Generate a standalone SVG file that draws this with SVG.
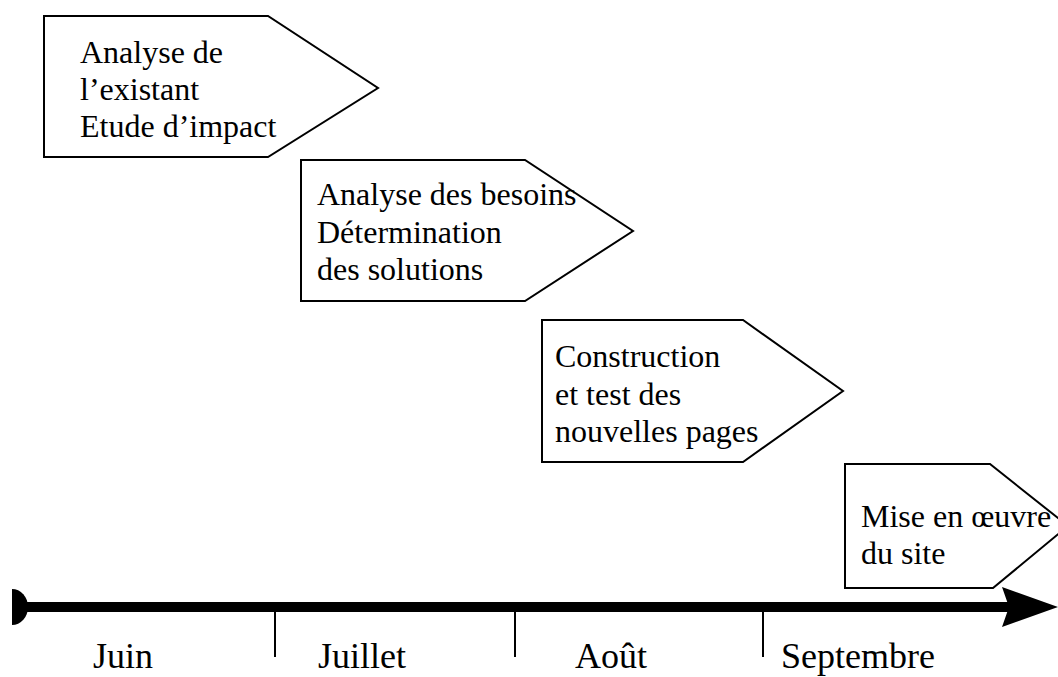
<svg xmlns="http://www.w3.org/2000/svg" width="1058" height="677" viewBox="0 0 1058 677">
<style>
.box{fill:#fff;stroke:#000;stroke-width:2;stroke-linejoin:miter}
.t{font-family:"Liberation Serif","Times New Roman",serif;font-size:32px;fill:#000}
.m{font-family:"Liberation Serif","Times New Roman",serif;font-size:36px;fill:#000}
.tick{stroke:#000;stroke-width:2}
</style>
<rect width="1058" height="677" fill="#fff"/>
<g id="step1">
<polygon class="box" points="44,16 268,16 378,88 268,157 44,157"/>
<text class="t" x="80" y="63">Analyse de</text>
<text class="t" x="80" y="100">l’existant</text>
<text class="t" x="80" y="137">Etude d’impact</text>
</g>
<g id="step2">
<polygon class="box" points="301,160 525,160 633,231 525,301 301,301"/>
<text class="t" x="317" y="205">Analyse des besoins</text>
<text class="t" x="317" y="243">Détermination</text>
<text class="t" x="317" y="280">des solutions</text>
</g>
<g id="step3">
<polygon class="box" points="542,320 743,320 843,391 743,462 542,462"/>
<text class="t" x="555" y="367">Construction</text>
<text class="t" x="555" y="405">et test des</text>
<text class="t" x="555" y="442">nouvelles pages</text>
</g>
<g id="step4">
<polygon class="box" points="845,464 990,464 1068,526 993,588 845,588"/>
<text class="t" x="861" y="527">Mise en œuvre</text>
<text class="t" x="861" y="564">du site</text>
</g>
<g id="connectors">
<line x1="12" y1="607" x2="1010" y2="607" stroke="#000" stroke-width="10"/>
<path d="M12,589 A16,18 0 0 1 12,625 Z" fill="#000"/>
<polygon points="1002,587 1058,607 1002,627 1009,607" fill="#000"/>
<line class="tick" x1="275" y1="612" x2="275" y2="657"/>
<line class="tick" x1="515" y1="612" x2="515" y2="657"/>
<line class="tick" x1="763" y1="612" x2="763" y2="657"/>
</g>
<g id="months">
<text class="m" x="93" y="668">Juin</text>
<text class="m" x="318" y="668">Juillet</text>
<text class="m" x="575" y="668">Août</text>
<text class="m" x="781" y="668">Septembre</text>
</g>
</svg>
